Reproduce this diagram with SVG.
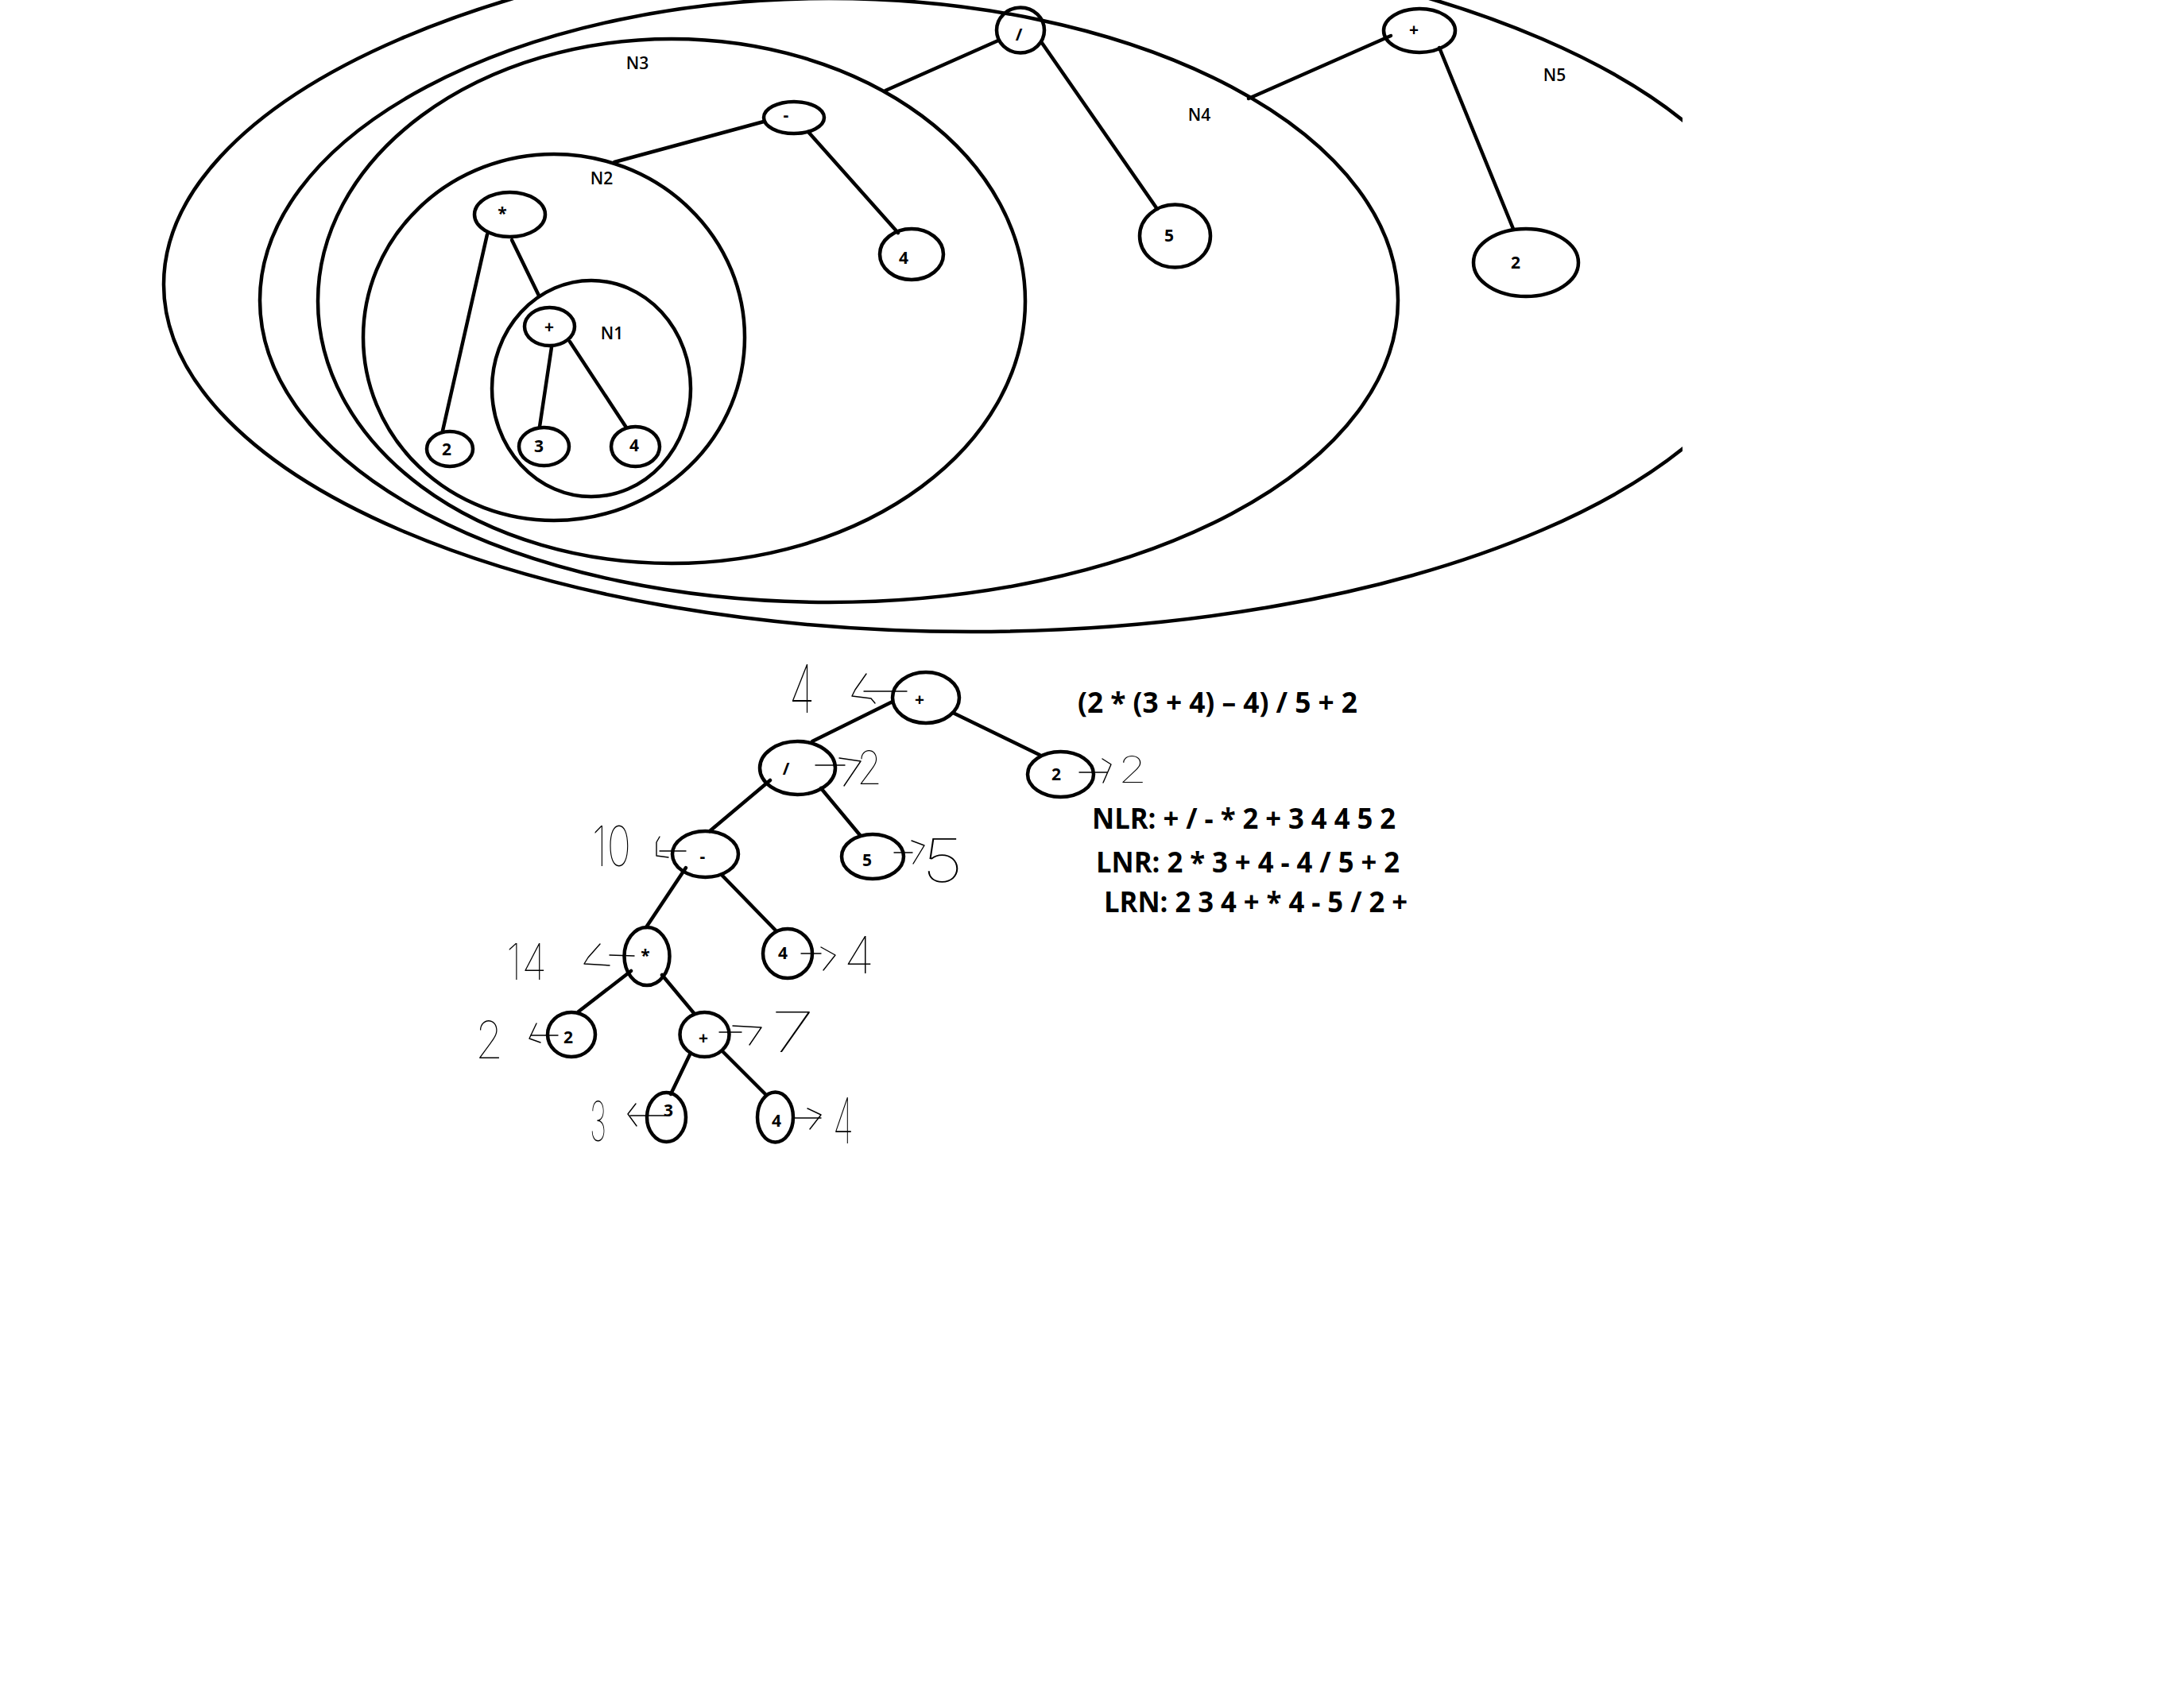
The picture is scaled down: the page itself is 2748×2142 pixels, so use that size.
<svg xmlns="http://www.w3.org/2000/svg" width="2748" height="2142" viewBox="0 0 2748 2142">
<style>
.e{fill:none;stroke:#000;stroke-width:4.5}
.n{fill:none;stroke:#000;stroke-width:4.5}
.c{fill:none;stroke:#000;stroke-width:4.5;stroke-linecap:round}
.t{font-family:"Open Sans","Noto Sans",sans-serif;font-size:21px;font-weight:700;fill:#000;text-anchor:middle}
.lab{font-family:"Open Sans","Noto Sans",sans-serif;font-size:21px;font-weight:600;fill:#000;text-anchor:middle}
.eq{font-family:"Open Sans","Noto Sans",sans-serif;font-size:36px;font-weight:700;fill:#000}
.hw{font-family:Inter,Roboto,Lato,sans-serif;font-weight:100;fill:#000}
.h{fill:none;stroke:#000;stroke-width:1.4;stroke-linejoin:round;stroke-linecap:round}
</style>
<defs>
<clipPath id="cut"><rect x="0" y="0" width="2117" height="2142"/></clipPath>
</defs>
<rect width="2748" height="2142" fill="#fff"/>

<g id="containers">
<g id="N5"><ellipse class="e" cx="1222" cy="358" rx="1016" ry="437" clip-path="url(#cut)"/><text class="lab" x="1956" y="102">N5</text></g>
<g id="N4"><ellipse class="e" cx="1043" cy="378" rx="716" ry="380"/><text class="lab" x="1509" y="152">N4</text></g>
<g id="N3"><ellipse class="e" cx="845" cy="379" rx="445" ry="330"/><text class="lab" x="802" y="87">N3</text></g>
<g id="N2"><ellipse class="e" cx="697" cy="424.5" rx="240" ry="230.5"/><text class="lab" x="757" y="232">N2</text></g>
<g id="N1"><ellipse class="e" cx="744" cy="489" rx="125" ry="136"/><text class="lab" x="770" y="427">N1</text></g>
</g>

<g id="connectors">
<line class="c" x1="613" y1="295" x2="557" y2="542"/>
<line class="c" x1="644" y1="302" x2="678" y2="372"/>
<line class="c" x1="694" y1="437" x2="679" y2="537"/>
<line class="c" x1="717" y1="430" x2="788" y2="538"/>
<line class="c" x1="773" y1="204" x2="961" y2="153"/>
<line class="c" x1="1017" y1="166" x2="1130" y2="293"/>
<line class="c" x1="1114" y1="114" x2="1256" y2="51"/>
<line class="c" x1="1311" y1="54" x2="1456" y2="263"/>
<line class="c" x1="1571" y1="124" x2="1750" y2="45"/>
<line class="c" x1="1811" y1="60" x2="1904" y2="288"/>

<line class="c" x1="1123" y1="883" x2="1022" y2="933"/>
<line class="c" x1="1199" y1="897" x2="1308" y2="950"/>
<line class="c" x1="969" y1="982" x2="893" y2="1046"/>
<line class="c" x1="1033" y1="992" x2="1082" y2="1051"/>
<line class="c" x1="863" y1="1092" x2="813" y2="1167"/>
<line class="c" x1="908" y1="1101" x2="976" y2="1171"/>
<line class="c" x1="794" y1="1222" x2="728" y2="1273"/>
<line class="c" x1="833" y1="1227" x2="873" y2="1275"/>
<line class="c" x1="869" y1="1325" x2="844" y2="1377"/>
<line class="c" x1="910" y1="1324" x2="963" y2="1377"/>
</g>

<g id="t-mul"><ellipse class="n" cx="641.5" cy="270" rx="44.5" ry="28"/><text class="t" x="632" y="276">*</text></g>
<g id="t-plus1"><ellipse class="n" cx="691.5" cy="411" rx="31.5" ry="24"/><text class="t" x="691" y="419">+</text></g>
<g id="t-2a"><ellipse class="n" cx="566" cy="565" rx="29" ry="22"/><text class="t" x="562" y="573">2</text></g>
<g id="t-3"><ellipse class="n" cx="684.5" cy="562" rx="31.5" ry="24"/><text class="t" x="678" y="569">3</text></g>
<g id="t-4a"><ellipse class="n" cx="799.5" cy="562" rx="30.5" ry="25"/><text class="t" x="798" y="568">4</text></g>
<g id="t-minus"><ellipse class="n" cx="999" cy="148" rx="38" ry="20"/><text class="t" x="989" y="152">-</text></g>
<g id="t-4b"><ellipse class="n" cx="1147" cy="320" rx="40" ry="32"/><text class="t" x="1137" y="332">4</text></g>
<g id="t-div"><ellipse class="n" cx="1284" cy="38" rx="30" ry="28.5"/><text class="t" x="1282" y="51">/</text></g>
<g id="t-5"><ellipse class="n" cx="1478.5" cy="297" rx="44.5" ry="39.5"/><text class="t" x="1471" y="304">5</text></g>
<g id="t-plus2"><ellipse class="n" cx="1786" cy="38.5" rx="45" ry="27.5"/><text class="t" x="1779" y="45">+</text></g>
<g id="t-2b"><ellipse class="n" cx="1920" cy="330.5" rx="66" ry="42.5"/><text class="t" x="1907" y="338">2</text></g>

<g id="b-plus"><ellipse class="n" cx="1165" cy="878" rx="42" ry="32"/><text class="t" x="1157" y="888">+</text></g>
<g id="b-div"><ellipse class="n" cx="1003.5" cy="966.5" rx="47.5" ry="33.5"/><text class="t" x="989" y="975">/</text></g>
<g id="b-2r"><ellipse class="n" cx="1334.5" cy="974.5" rx="41.5" ry="28.5"/><text class="t" x="1329" y="982">2</text></g>
<g id="b-minus"><ellipse class="n" cx="887.5" cy="1075" rx="41.5" ry="29"/><text class="t" x="884" y="1085">-</text></g>
<g id="b-5"><ellipse class="n" cx="1098" cy="1078" rx="39" ry="28"/><text class="t" x="1091" y="1090">5</text></g>
<g id="b-mul"><ellipse class="n" cx="814" cy="1203.5" rx="28.5" ry="36.5"/><text class="t" x="812" y="1210">*</text></g>
<g id="b-4m"><ellipse class="n" cx="991" cy="1200" rx="31" ry="31"/><text class="t" x="985" y="1207">4</text></g>
<g id="b-2l"><ellipse class="n" cx="719" cy="1302" rx="30" ry="28"/><text class="t" x="715" y="1313">2</text></g>
<g id="b-plus2"><ellipse class="n" cx="886.5" cy="1302" rx="31" ry="28"/><text class="t" x="885" y="1314">+</text></g>
<g id="b-3"><ellipse class="n" cx="838.5" cy="1406" rx="24.5" ry="31"/><text class="t" x="841" y="1405">3</text></g>
<g id="b-4b"><ellipse class="n" cx="975.5" cy="1406" rx="22.5" ry="31.5"/><text class="t" x="977" y="1418">4</text></g>

<g id="annotations">
<text class="hw" x="993" y="897" font-size="84" textLength="32" lengthAdjust="spacingAndGlyphs">4</text>
<polyline class="h" points="1090,848 1076,868 1072,876 1096,879 1101,885"/>
<line class="h" x1="1087" y1="870" x2="1141" y2="870"/>

<line class="h" x1="1026" y1="963" x2="1063" y2="963"/>
<polyline class="h" points="1056,954 1083,958 1062,989"/>
<text class="hw" x="1078" y="987" font-size="58" textLength="32" lengthAdjust="spacingAndGlyphs">2</text>

<line class="h" x1="1358" y1="972" x2="1393" y2="972"/>
<polyline class="h" points="1387,955 1398,962 1388,985"/>
<text class="hw" x="1407" y="985" font-size="46" textLength="36" lengthAdjust="spacingAndGlyphs">2</text>

<text class="hw" x="745" y="1090" font-size="70" textLength="49" lengthAdjust="spacingAndGlyphs">10</text>
<polyline class="h" points="830,1053 826,1060 826,1077 841,1079"/>
<line class="h" x1="830" y1="1071" x2="863" y2="1071"/>

<line class="h" x1="1125" y1="1073" x2="1148" y2="1073"/>
<polyline class="h" points="1147,1058 1163,1064 1149,1087"/>
<text class="hw" x="1160" y="1110" font-size="76" textLength="52" lengthAdjust="spacingAndGlyphs">5</text>

<text class="hw" x="637" y="1233" font-size="63" textLength="51" lengthAdjust="spacingAndGlyphs">14</text>
<polyline class="h" points="755,1188 740,1205 735,1213 767,1215"/>
<line class="h" x1="767" y1="1202" x2="798" y2="1203"/>

<line class="h" x1="1008" y1="1200" x2="1033" y2="1200"/>
<polyline class="h" points="1033,1192 1051,1202 1036,1221"/>
<text class="hw" x="1062" y="1225" font-size="65" textLength="38" lengthAdjust="spacingAndGlyphs">4</text>

<text class="hw" x="598" y="1332" font-size="65" textLength="35" lengthAdjust="spacingAndGlyphs">2</text>
<polyline class="h" points="675,1288 666,1307 680,1312"/>
<line class="h" x1="668" y1="1303" x2="702" y2="1303"/>

<line class="h" x1="905" y1="1299" x2="933" y2="1299"/>
<polyline class="h" points="922,1291 958,1293 943,1315"/>
<text class="hw" x="970" y="1324" font-size="70" textLength="55" lengthAdjust="spacingAndGlyphs">7</text>

<text class="hw" x="742" y="1436" font-size="69" textLength="21" lengthAdjust="spacingAndGlyphs">3</text>
<polyline class="h" points="800,1389 790,1402 801,1417"/>
<line class="h" x1="793" y1="1404" x2="837" y2="1404"/>

<line class="h" x1="999" y1="1407" x2="1033" y2="1407"/>
<polyline class="h" points="1016,1395 1033,1403 1019,1421"/>
<text class="hw" x="1048" y="1439" font-size="80" textLength="26" lengthAdjust="spacingAndGlyphs">4</text>
</g>

<g id="formulas">
<text class="eq" x="1356" y="897" textLength="352" lengthAdjust="spacingAndGlyphs">(2 * (3 + 4) – 4) / 5 + 2</text>
<text class="eq" x="1374" y="1043" textLength="382" lengthAdjust="spacingAndGlyphs">NLR: + / - * 2 + 3 4 4 5 2</text>
<text class="eq" x="1379" y="1098" textLength="382" lengthAdjust="spacingAndGlyphs">LNR: 2 * 3 + 4 - 4 / 5 + 2</text>
<text class="eq" x="1389" y="1148" textLength="382" lengthAdjust="spacingAndGlyphs">LRN: 2 3 4 + * 4 - 5 / 2 +</text>
</g>
</svg>
